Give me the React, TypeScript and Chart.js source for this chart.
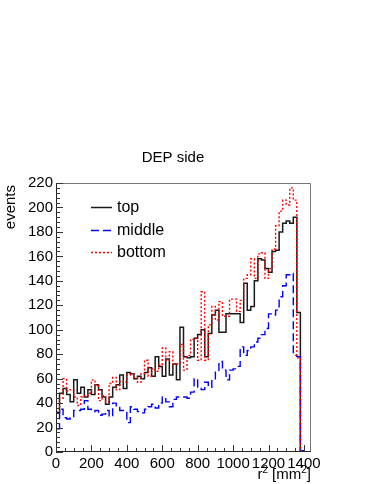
import React, { useEffect, useRef } from "react";
import { Chart, registerables } from "chart.js";

Chart.register(...registerables);

// ---------- data ----------
const BIN_WIDTH = 20;
const X_MIN = 0;
const X_MAX = 1440;
const Y_MIN = 0;
const Y_MAX = 220;
const X_STEP = 200;
const Y_STEP = 20;
const X_MINOR = 50;
const Y_MINOR = 4;
const X_TICKS = [0, 200, 400, 600, 800, 1000, 1200, 1400];
const Y_TICKS = [0, 20, 40, 60, 80, 100, 120, 140, 160, 180, 200, 220];

const TITLE = "DEP side";
const Y_TITLE = "events";
const SERIES_NAMES = ["top", "middle", "bottom"];

const topCounts = [
  14, 32, 48, 52, 47, 41, 59, 48, 53, 45,
  51, 47, 55, 51, 45, 39, 45, 53, 55, 63,
  52, 65, 64, 60, 62, 60, 65, 69, 62, 78,
  70, 62, 76, 63, 72, 59, 102, 78, 77, 78,
  93, 96, 100, 78, 97, 112, 116, 98, 98, 113,
  113, 113, 113, 106, 138, 116, 119, 140, 158, 157,
  150, 147, 164, 165, 180, 187, 189, 187, 192, 114,
  1, 0,
];

const middleCounts = [
  9, 19, 35, 28, 27, 28, 34, 34, 35, 42,
  35, 33, 34, 30, 31, 34, 29, 40, 37, 34,
  33, 24, 37, 35, 33, 32, 35, 37, 39, 36,
  40, 45, 41, 37, 43, 45, 45, 45, 44, 49,
  60, 53, 51, 57, 53, 59, 66, 74, 67, 59,
  67, 68, 70, 86, 79, 83, 86, 90, 93, 96,
  101, 113, 112, 116, 127, 136, 145, 146, 79, 78,
  1, 0,
];

const bottomCounts = [
  15, 33, 44, 60, 50, 51, 45, 38, 45, 46,
  48, 59, 55, 42, 46, 41, 56, 61, 51, 58,
  57, 63, 64, 61, 57, 64, 75, 62, 68, 66,
  71, 85, 75, 82, 72, 72, 88, 67, 79, 92,
  93, 75, 131, 75, 104, 119, 108, 123, 111, 111,
  125, 125, 115, 124, 142, 145, 158, 142, 162, 163,
  142, 150, 166, 185, 197, 206, 202, 216, 206, 77,
  1, 0,
];

// ---------- helpers ----------
function histPoints(counts: number[]) {
  const pts: { x: number; y: number }[] = [{ x: X_MIN, y: 0 }];
  counts.forEach((c, i) => pts.push({ x: X_MIN + i * BIN_WIDTH, y: c }));
  pts.push({ x: X_MIN + counts.length * BIN_WIDTH, y: counts[counts.length - 1] });
  return pts;
}

const FONT = '"Liberation Sans", Arial, Helvetica, sans-serif';

const STYLES = [
  { color: "#1a1a1a", dash: [] as number[], width: 1.5 },
  { color: "#0000ff", dash: [8, 4], width: 1.4 },
  { color: "#ff0000", dash: [2, 2], width: 1.4 },
];

const rootStyle = {
  id: "rootStyle",
  afterDatasetsDraw(chart: any) {
    const { ctx, chartArea: a, scales } = chart;
    const xs = scales.x;
    const ys = scales.y;
    ctx.save();

    // frame
    ctx.lineWidth = 1;
    ctx.strokeStyle = "#777";
    ctx.beginPath();
    ctx.moveTo(a.left + 0.5, a.top + 0.5);
    ctx.lineTo(a.right - 0.5, a.top + 0.5);
    ctx.lineTo(a.right - 0.5, a.bottom - 0.5);
    ctx.stroke();
    ctx.strokeStyle = "#222";
    ctx.beginPath();
    ctx.moveTo(a.left + 0.5, a.top + 0.5);
    ctx.lineTo(a.left + 0.5, a.bottom - 0.5);
    ctx.lineTo(a.right - 0.5, a.bottom - 0.5);
    ctx.stroke();

    // ticks
    ctx.strokeStyle = "#333";
    ctx.beginPath();
    for (let v = X_MIN; v <= X_MAX + 1e-6; v += X_MINOR) {
      const px = Math.round(xs.getPixelForValue(v)) + 0.5;
      const len = v % X_STEP === 0 ? 7 : 4;
      ctx.moveTo(px, a.bottom);
      ctx.lineTo(px, a.bottom - len);
    }
    for (let v = Y_MIN; v <= Y_MAX + 1e-6; v += Y_MINOR) {
      const py = Math.round(ys.getPixelForValue(v)) + 0.5;
      const len = v % Y_STEP === 0 ? 7 : 4;
      ctx.moveTo(a.left, py);
      ctx.lineTo(a.left + len, py);
    }
    ctx.stroke();

    // title
    ctx.fillStyle = "#000";
    ctx.font = `15px ${FONT}`;
    ctx.textAlign = "center";
    ctx.textBaseline = "alphabetic";
    ctx.fillText(TITLE, 173, 162);

    // y title
    ctx.save();
    ctx.translate(15, a.top + 2);
    ctx.rotate(-Math.PI / 2);
    ctx.textAlign = "right";
    ctx.textBaseline = "alphabetic";
    ctx.font = `15px ${FONT}`;
    ctx.fillText(Y_TITLE, 0, 0);
    ctx.restore();

    // x title: r^2 [mm^2]
    const parts = [
      { t: "r", sup: false },
      { t: "2", sup: true },
      { t: " [mm", sup: false },
      { t: "2", sup: true },
      { t: "]", sup: false },
    ];
    const mainFont = `15px ${FONT}`;
    const supFont = `10px ${FONT}`;
    let total = 0;
    parts.forEach((p) => {
      ctx.font = p.sup ? supFont : mainFont;
      total += ctx.measureText(p.t).width;
    });
    let cx = a.right - total;
    const base = 479;
    ctx.textAlign = "left";
    parts.forEach((p) => {
      ctx.font = p.sup ? supFont : mainFont;
      ctx.fillText(p.t, cx, p.sup ? base - 6 : base);
      cx += ctx.measureText(p.t).width;
    });

    // legend
    const legendY = [207, 230, 252];
    SERIES_NAMES.forEach((name, i) => {
      const st = STYLES[i];
      ctx.strokeStyle = st.color;
      ctx.lineWidth = st.width;
      ctx.setLineDash(st.dash);
      ctx.beginPath();
      ctx.moveTo(91, legendY[i] + 0.5);
      ctx.lineTo(112, legendY[i] + 0.5);
      ctx.stroke();
      ctx.setLineDash([]);
      ctx.fillStyle = "#000";
      ctx.font = `16px ${FONT}`;
      ctx.textAlign = "left";
      ctx.textBaseline = "middle";
      ctx.fillText(name, 117, legendY[i] + 1);
    });

    ctx.restore();
  },
};

export default function App() {
  const ref = useRef<HTMLCanvasElement | null>(null);

  useEffect(() => {
    if (!ref.current) return;
    const seriesData = [topCounts, middleCounts, bottomCounts];
    const chart = new Chart(ref.current, {
      type: "line",
      data: {
        datasets: seriesData.map((counts, i) => ({
          label: SERIES_NAMES[i],
          data: histPoints(counts),
          borderColor: STYLES[i].color,
          borderWidth: STYLES[i].width,
          borderDash: STYLES[i].dash,
          stepped: "after" as const,
          pointRadius: 0,
          fill: false,
          tension: 0,
          order: 3 - i,
        })),
      },
      options: {
        responsive: false,
        animation: false,
        devicePixelRatio: 1,
        layout: { padding: { left: 0, right: 63, top: 183, bottom: 0 } },
        plugins: {
          legend: { display: false },
          title: { display: false },
          tooltip: { enabled: false },
        },
        scales: {
          x: {
            type: "linear",
            min: X_MIN,
            max: X_MAX,
            grid: { display: false, drawTicks: false },
            border: { display: false },
            afterBuildTicks: (s: any) => {
              s.ticks = X_TICKS.map((v) => ({ value: v }));
            },
            ticks: {
              autoSkip: false,
              maxRotation: 0,
              minRotation: 0,
              padding: 3,
              color: "#000",
              font: { family: FONT, size: 15 },
              callback: (v: any) => String(v),
            },
            afterFit: (s: any) => {
              s.height = 32;
            },
          },
          y: {
            type: "linear",
            min: Y_MIN,
            max: Y_MAX,
            grid: { display: false, drawTicks: false },
            border: { display: false },
            afterBuildTicks: (s: any) => {
              s.ticks = Y_TICKS.map((v) => ({ value: v }));
            },
            ticks: {
              autoSkip: false,
              padding: 3,
              color: "#000",
              font: { family: FONT, size: 15 },
              callback: (v: any) => String(v),
            },
            afterFit: (s: any) => {
              s.width = 56;
            },
          },
        },
      },
      plugins: [rootStyle],
    });
    return () => chart.destroy();
  }, []);

  return (
    <div style={{ position: "fixed", left: 0, top: 0, width: 374, height: 484, background: "#fff" }}>
      <canvas ref={ref} width={374} height={484} style={{ display: "block" }} />
    </div>
  );
}
